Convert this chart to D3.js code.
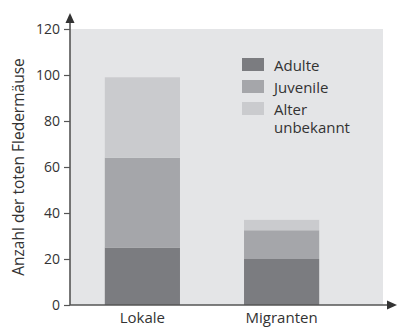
<!DOCTYPE html>
<html lang="de">
<head>
<meta charset="UTF-8">
<script src="https://d3js.org/d3.v7.min.js"></script>
<style>
  body { margin: 0; background: #fff; }
  svg text { font-family: 'Open Sans', 'Noto Sans', sans-serif; fill: #333; }
</style>
</head>
<body>
<div id="chart"></div>
<script>
// data
const categories = ["Lokale", "Migranten"];
const seriesNames = ["Adulte", "Juvenile", "Alter unbekannt"];
const adulte = [25, 20];
const juvenile = [39, 12.5];
const unbekannt = [35, 4.5];
const yTicks = [0, 20, 40, 60, 80, 100, 120];
const colors = ["#7b7c80", "#a5a6aa", "#cacbce"];

const W = 397, H = 327;
const svg = d3.select("#chart").append("svg")
  .attr("width", W).attr("height", H);

const x0 = 70, panelRight = 383, yBottom = 305, yTop = 29;
const y = d3.scaleLinear().domain([0, 120]).range([yBottom, yTop]);
const x = d3.scaleBand().domain(categories).range([x0, 354])
  .paddingInner(0.46).paddingOuter(0.25);

// background panel
svg.append("rect")
  .attr("x", x0).attr("y", y(120))
  .attr("width", panelRight - x0).attr("height", yBottom - y(120))
  .attr("fill", "#e4e5e7");

// stacked bars
const rows = categories.map((c, i) => ({ cat: c, Adulte: adulte[i], Juvenile: juvenile[i], "Alter unbekannt": unbekannt[i] }));
const stack = d3.stack().keys(seriesNames)(rows);

svg.selectAll(".layer")
  .data(stack)
  .join("g")
  .attr("fill", (d, i) => colors[i])
  .selectAll("rect")
  .data(d => d)
  .join("rect")
  .attr("x", d => x(d.data.cat))
  .attr("width", x.bandwidth())
  .attr("y", d => y(d[1]))
  .attr("height", d => y(d[0]) - y(d[1]));

// y axis
const yAxis = svg.append("g")
  .attr("transform", `translate(${x0},0)`)
  .call(d3.axisLeft(y).tickValues(yTicks).tickSize(6).tickPadding(4));
yAxis.select(".domain").remove();
yAxis.selectAll(".tick line").attr("stroke", "#555").attr("stroke-width", 1.2);
yAxis.selectAll(".tick text").attr("font-size", 14).style("fill", "#333")
  .style("font-family", "'Open Sans', sans-serif");

// axis lines with arrows
svg.append("line").attr("x1", x0).attr("x2", x0).attr("y1", yBottom).attr("y2", 20)
  .attr("stroke", "#555").attr("stroke-width", 1.6);
svg.append("path").attr("d", `M${x0},13 L${x0 - 4.5},23 L${x0 + 4.5},23 Z`).attr("fill", "#333");
svg.append("line").attr("x1", x0).attr("x2", 388).attr("y1", yBottom).attr("y2", yBottom)
  .attr("stroke", "#555").attr("stroke-width", 1.6);
svg.append("path").attr("d", `M397,${yBottom} L387,${yBottom - 4.5} L387,${yBottom + 4.5} Z`).attr("fill", "#333");

// category labels
svg.selectAll(".cat")
  .data(categories)
  .join("text")
  .attr("x", d => x(d) + x.bandwidth() / 2)
  .attr("y", 323)
  .attr("text-anchor", "middle")
  .attr("font-size", 15)
  .text(d => d);

// y label
svg.append("text")
  .attr("transform", "translate(24,167) rotate(-90)")
  .attr("text-anchor", "middle")
  .attr("font-size", 15.5)
  .text("Anzahl der toten Fledermäuse");

// legend (multi-line label as one text with tspans)
const legendLabels = [["Adulte"], ["Juvenile"], ["Alter", "unbekannt"]];
const lg = svg.append("g").attr("transform", "translate(242,58)");
legendLabels.forEach((lines, i) => {
  const g = lg.append("g").attr("transform", `translate(0,${i * 22})`);
  g.append("rect").attr("width", 22).attr("height", 13).attr("fill", colors[i]);
  const t = g.append("text").attr("x", 32).attr("y", 13).attr("font-size", 15);
  lines.forEach((s, j) => {
    t.append("tspan").attr("x", 32).attr("dy", j === 0 ? 0 : 17.5).text(s);
  });
});
</script>
</body>
</html>
